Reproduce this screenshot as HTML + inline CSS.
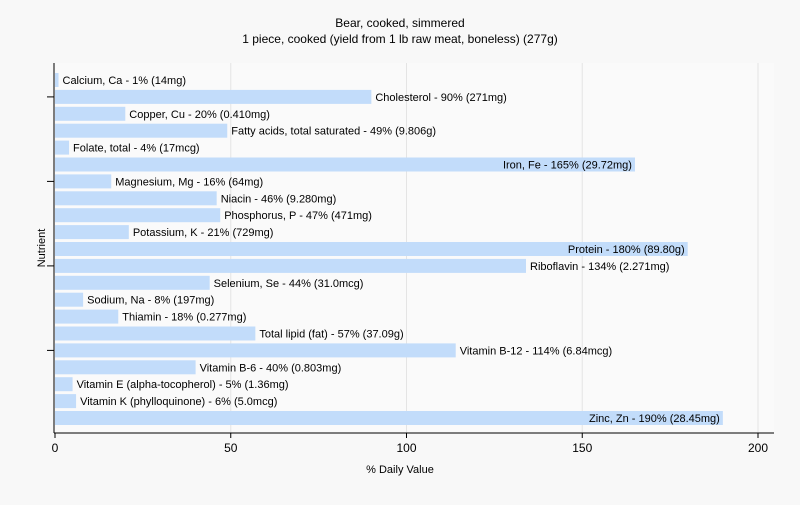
<!DOCTYPE html>
<html><head><meta charset="utf-8"><style>
body{margin:0;background:#f8f8f8;font-family:"Liberation Sans",Arial,sans-serif}
svg text{font-family:"Liberation Sans",Arial,sans-serif}
</style></head><body>
<svg id="c" width="800" height="500">
<rect x="54" y="63" width="720" height="370" fill="#fafafa"/>
<text x="400" y="27" font-size="12" text-anchor="middle" fill="#000">Bear, cooked, simmered</text>
<text x="400" y="43" font-size="12" text-anchor="middle" fill="#000">1 piece, cooked (yield from 1 lb raw meat, boneless) (277g)</text>
<text x="400" y="473" font-size="11" text-anchor="middle">% Daily Value</text>
<text x="45" y="248" font-size="11" text-anchor="middle" transform="rotate(-90 45 248)">Nutrient</text>
<g id="grid"></g><g id="bars"></g><g id="axes"></g>
</svg>
<script>
const categories=["Calcium, Ca","Cholesterol","Copper, Cu","Fatty acids, total saturated","Folate, total","Iron, Fe","Magnesium, Mg","Niacin","Phosphorus, P","Potassium, K","Protein","Riboflavin","Selenium, Se","Sodium, Na","Thiamin","Total lipid (fat)","Vitamin B-12","Vitamin B-6","Vitamin E (alpha-tocopherol)","Vitamin K (phylloquinone)","Zinc, Zn"];
const values=[1,90,20,49,4,165,16,46,47,21,180,134,44,8,18,57,114,40,5,6,190];
const amounts=["14mg","271mg","0.410mg","9.806g","17mcg","29.72mg","64mg","9.280mg","471mg","729mg","89.80g","2.271mg","31.0mcg","197mg","0.277mg","37.09g","6.84mcg","0.803mg","1.36mg","5.0mcg","28.45mg"];
const xTicks=[0,50,100,150,200];
const NS="http://www.w3.org/2000/svg";
const x=v=>55+v*(703/200);
const y=i=>80+i*16.9;
function mk(t,a,p){const e=document.createElementNS(NS,t);for(const k in a)e.setAttribute(k,a[k]);p.appendChild(e);return e;}
const g=document.getElementById('grid'),b=document.getElementById('bars'),ax=document.getElementById('axes');
xTicks.forEach(t=>{
 if(t>0){const l=mk('line',{x1:x(t),x2:x(t),y1:63,y2:433,stroke:'#e4e4e4'},g);
 
 }
 const tk=mk('line',{x1:x(t),x2:x(t),y1:433,y2:438,stroke:'#000'},ax);
 
 
 const tx=mk('text',{x:x(t),y:452,'font-size':12,'text-anchor':'middle'},ax);tx.textContent=t;
 
 
});
categories.forEach((c,i)=>{
 const r=mk('rect',{x:55,y:y(i)-7,width:x(values[i])-55,height:14,fill:'#c2dcfa'},b);
 
 
 const lab=c+' - '+values[i]+'% ('+amounts[i]+')';
 const inside=values[i]>150;
 const t=mk('text',{x:inside?x(values[i])-3:x(values[i])+4,y:y(i)+4,'font-size':11,'text-anchor':inside?'end':'start'},b);
 t.textContent=lab;
 
 
 if(i%5==1){const tk=mk('line',{x1:47,x2:54,y1:y(i),y2:y(i),stroke:'#000'},ax);
 
 }
});
const la=mk('line',{x1:54,x2:54,y1:63,y2:433,stroke:'#000'},ax);


const lb=mk('line',{x1:54,x2:774,y1:433,y2:433,stroke:'#000'},ax);


</script>
</body></html>
